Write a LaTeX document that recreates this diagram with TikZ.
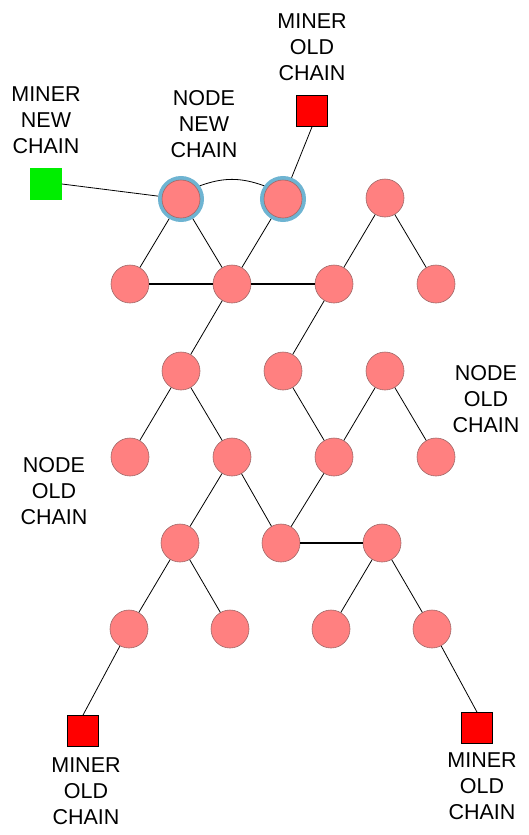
\documentclass[tikz,border=0pt]{standalone}
\usepackage{fontspec}
\setmainfont{Liberation Sans}
\definecolor{nodefill}{HTML}{FF8080}
\definecolor{nodeline}{HTML}{A06868}
\definecolor{ringblue}{HTML}{6EB4D2}
\definecolor{minergreen}{HTML}{00EE00}
\definecolor{minerred}{HTML}{FF0000}
\begin{document}
\begin{tikzpicture}[x=1pt,y=1pt,
  chainnode/.style={circle,minimum size=38pt,inner sep=0pt,fill=nodefill,draw=nodeline,line width=0.6pt},
  ringnode/.style={circle,minimum size=42pt,inner sep=0pt,fill=nodefill,draw=ringblue,line width=4pt},
  minerbox/.style={rectangle,minimum size=31pt,inner sep=0pt,line width=0.8pt},
  lbl/.style={align=center,font=\fontsize{21.5}{26}\selectfont,inner sep=0pt},
  link/.style={line width=0.8pt},
  hlink/.style={line width=1.3pt}]
\useasboundingbox (0,0) rectangle (528,-835);

% row A
\node[ringnode] (A1) at (181,-199) {};
\node[chainnode] (A1i) at (181,-199) {};
\node[ringnode] (A2) at (283,-199) {};
\node[chainnode] (A2i) at (283,-199) {};
\node[chainnode] (A3) at (385,-198) {};
% row B
\node[chainnode] (B1) at (130,-284) {};
\node[chainnode] (B2) at (232,-284) {};
\node[chainnode] (B3) at (334,-284) {};
\node[chainnode] (B4) at (436,-284) {};
% row C
\node[chainnode] (C1) at (181,-371) {};
\node[chainnode] (C2) at (283,-371) {};
\node[chainnode] (C3) at (385,-371) {};
% row D
\node[chainnode] (D1) at (130,-457) {};
\node[chainnode] (D2) at (232,-457) {};
\node[chainnode] (D3) at (334,-457) {};
\node[chainnode] (D4) at (436,-457) {};
% row E
\node[chainnode] (E1) at (180,-543) {};
\node[chainnode] (E2) at (281,-543) {};
\node[chainnode] (E3) at (382,-543) {};
% row F
\node[chainnode] (F1) at (129,-629) {};
\node[chainnode] (F2) at (230,-629) {};
\node[chainnode] (F3) at (331,-629) {};
\node[chainnode] (F4) at (432,-629) {};

% miners
\node[minerbox,fill=minergreen,draw=minergreen] (MG) at (46,-184) {};
\node[minerbox,fill=minerred,draw=black] (MT) at (312,-111) {};
\node[minerbox,fill=minerred,draw=black] (MBL) at (83,-731) {};
\node[minerbox,fill=minerred,draw=black] (MBR) at (477,-728) {};

% connectors
\draw[link] (MG.east) -- (A1);
\draw[link] (MT.south) -- (A2);
\draw[link] (A1.35) to[out=20,in=160] (A2.145);
\draw[link] (A1) -- (B1);
\draw[link] (A1) -- (B2);
\draw[link] (A2) -- (B2);
\draw[hlink] (B1) -- (B2);
\draw[hlink] (B2) -- (B3);
\draw[link] (A3) -- (B3);
\draw[link] (A3) -- (B4);
\draw[link] (B2) -- (C1);
\draw[link] (B3) -- (C2);
\draw[link] (C1) -- (D1);
\draw[link] (C1) -- (D2);
\draw[link] (C2) -- (D3);
\draw[link] (C3) -- (D3);
\draw[link] (C3) -- (D4);
\draw[link] (D2) -- (E1);
\draw[link] (D2) -- (E2);
\draw[link] (D3) -- (E2);
\draw[hlink] (E2) -- (E3);
\draw[link] (E1) -- (F1);
\draw[link] (E1) -- (F2);
\draw[link] (E3) -- (F3);
\draw[link] (E3) -- (F4);
\draw[link] (F1) -- (MBL.north);
\draw[link] (F4) -- (MBR.north);

% labels
\node[lbl] (LMG) at (46,-120) {MINER\\NEW\\CHAIN};
\node[lbl] (LNN) at (204,-124) {NODE\\NEW\\CHAIN};
\node[lbl] (LMT) at (312,-47) {MINER\\OLD\\CHAIN};
\node[lbl] (LNR) at (486,-399) {NODE\\OLD\\CHAIN};
\node[lbl] (LNL) at (54,-491) {NODE\\OLD\\CHAIN};
\node[lbl] (LMBL) at (86,-791) {MINER\\OLD\\CHAIN};
\node[lbl] (LMBR) at (482,-786) {MINER\\OLD\\CHAIN};
\end{tikzpicture}
\end{document}
